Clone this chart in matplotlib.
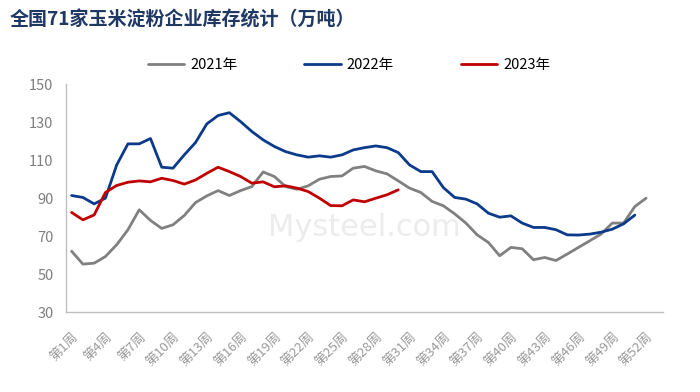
import matplotlib
matplotlib.use("Agg")
import matplotlib.pyplot as plt
import numpy as np

plt.rcParams['font.family'] = ['Noto Sans CJK SC', 'DejaVu Sans']

weeks = [f"第{i}周" for i in range(1, 54)]
tick_labels = [f"第{i}周" for i in range(1, 54, 3)]

y2021 = [62, 55.2, 55.7, 59.2, 65.4, 73.3, 83.8, 78.2, 74, 75.9, 80.8, 87.6, 91.1, 93.9,
         91.3, 93.9, 96, 103.7, 101.3, 96, 94.6, 96.4, 99.9, 101.3, 101.6, 105.7, 106.6,
         104.3, 102.7, 99, 95.2, 92.9, 88.2, 85.9, 81.7, 76.8, 70.6, 66.6, 59.6, 64, 63.3,
         57.5, 58.7, 57.1, 60.5, 64, 67.5, 71, 76.8, 76.8, 85.5, 89.9]
y2022 = [91.3, 90.3, 86.9, 89.9, 107.4, 118.5, 118.5, 121.3, 106.2, 105.7, 112.7, 119.2,
         129, 133.4, 134.9, 130.2, 125, 120.6, 117.1, 114.4, 112.7, 111.5, 112.2, 111.5,
         112.7, 115.3, 116.5, 117.4, 116.5, 113.9, 107.4, 103.9, 103.9, 95.5, 90.3, 89.4,
         86.9, 82, 79.9, 80.6, 76.8, 74.5, 74.5, 73.3, 70.6, 70.5, 71, 72, 73.6, 76.4, 81]
y2023 = [82.4, 78.5, 81.1, 92.9, 96.6, 98.3, 99, 98.5, 100.4, 99.2, 97.3, 99.5, 103, 106.2,
         103.9, 101.3, 97.8, 98.5, 95.9, 96.4, 95.2, 93.4, 89.9, 86, 85.9, 89, 88, 89.9,
         91.7, 94.3]

series = [("2021年", y2021, "#808080"), ("2022年", y2022, "#0b3a8a"), ("2023年", y2023, "#c00000")]

fig = plt.figure(figsize=(7, 3.92), dpi=100)
ax = fig.add_axes([66/700, 1-312/392, (663-66)/700, (312-84)/392])

x = np.arange(len(weeks))
for label, vals, color in series:
    ax.plot(x[:len(vals)], vals, color=color, lw=2.0, label=label, solid_capstyle='round')

ax.set_xlim(-0.5, len(weeks) - 0.5)
ax.set_ylim(30, 150)
ax.set_yticks(np.arange(30, 151, 20))
ax.set_xticks(x[::3])
ax.set_xticklabels(tick_labels, rotation=45, ha='right', va='top', rotation_mode='anchor',
                   fontsize=9.5, color='#9a9a9a')
ax.tick_params(axis='y', labelsize=10.5, labelcolor='#7f7f7f', length=0, pad=9)
ax.tick_params(axis='x', length=0, pad=13)
for s in ['top', 'right']:
    ax.spines[s].set_visible(False)
for s in ['left', 'bottom']:
    ax.spines[s].set_color('#bfbfbf')
    ax.spines[s].set_linewidth(1.0)

ax.text(0.5, 0.37, "Mysteel.com", transform=ax.transAxes, fontsize=22, color='#ececec',
        ha='center', va='center', zorder=0, family='DejaVu Sans')

fig.text(10/700, 1-20/392, "全国71家玉米淀粉企业库存统计（万吨）", fontsize=13.7,
         fontweight='bold', color='#1f3864', ha='left', va='center')

fig.legend(loc='center', bbox_to_anchor=(349/700, 1-65/392), ncol=3, frameon=False,
           fontsize=10.5, handlelength=2.5, columnspacing=4.6, handletextpad=0.4)

fig.savefig("out.png", dpi=100)
